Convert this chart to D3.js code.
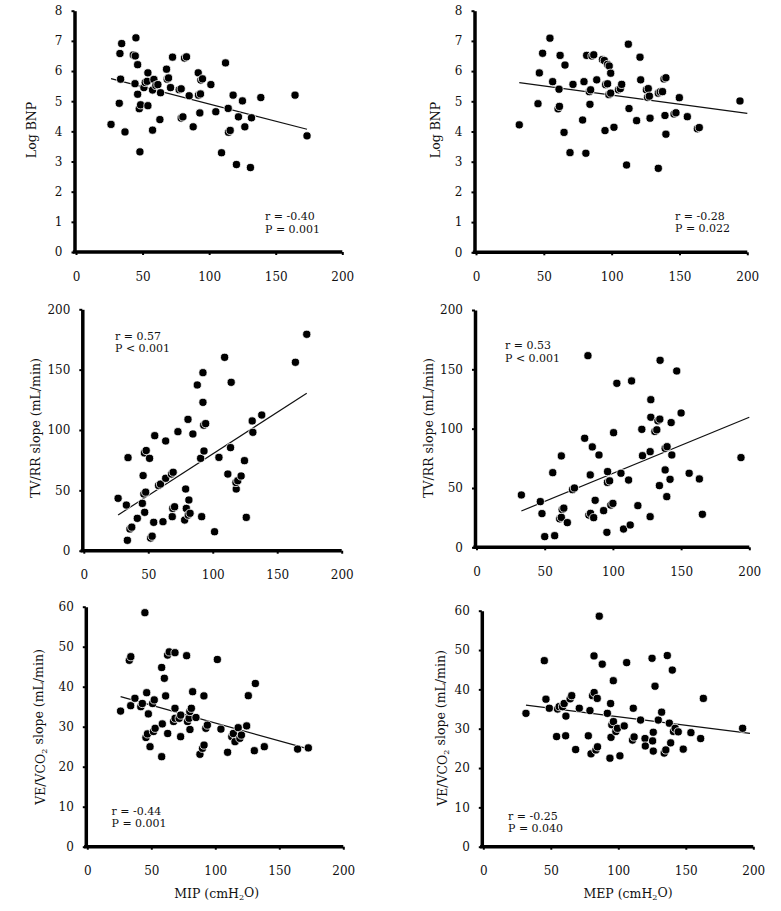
<!DOCTYPE html>
<html>
<head>
<meta charset="utf-8">
<script src="https://cdn.jsdelivr.net/npm/d3@7"></script>
<style>
  html, body { margin: 0; padding: 0; background: #fff; }
  svg { display: block; }
  text { font-family: "DejaVu Serif", "Liberation Serif", serif; fill: #111; }
</style>
</head>
<body>
<svg id="chart" width="781" height="911"></svg>
<script>
// ---- Data ----
const xTicks = [0, 50, 100, 150, 200];
const bnpTicks = [0, 1, 2, 3, 4, 5, 6, 7, 8];
const tvTicks = [0, 50, 100, 150, 200];
const veTicks = [0, 10, 20, 30, 40, 50, 60];

const yTitles = ["Log BNP", "TV/RR slope (mL/min)", "VE/VCO2 slope (mL/min)"];
const xTitles = ["MIP (cmH2O)", "MEP (cmH2O)"];

const statsR = ["r = -0.40", "r = -0.28", "r = 0.57", "r = 0.53", "r = -0.44", "r = -0.25"];
const statsP = ["P = 0.001", "P = 0.022", "P < 0.001", "P < 0.001", "P = 0.001", "P = 0.040"];

const mipBnp = [[26.3,4.23],[33,6.58],[34.3,6.91],[33.5,5.73],[32.5,4.93],[36.8,3.98],[43,6.53],[44.5,6.5],[45,7.10],[46.3,6.21],[44.3,5.58],[46.3,5.23],[47.5,4.75],[48.5,4.88],[48,3.32],[54,4.85],[51,5.45],[52,5.62],[53.5,5.66],[54,5.94],[58.5,5.72],[57.5,5.37],[60,5.52],[61.5,5.55],[63.5,5.28],[57.5,4.04],[63,4.39],[68,6.06],[68.5,5.73],[69.5,5.77],[71,5.45],[72.5,6.46],[77.5,5.38],[79,5.41],[79,4.44],[80.3,4.48],[81.5,6.43],[83,6.47],[85,5.18],[88,4.15],[91.8,5.94],[92,5.2],[93.5,5.24],[93,4.61],[93.8,5.7],[95,5.74],[101.3,5.55],[105,4.65],[109.3,3.29],[112.3,6.27],[114.3,4.76],[114.5,3.97],[115.8,4.03],[118,5.2],[120.5,2.90],[122,4.48],[125,5.01],[126.8,4.15],[131,2.80],[131.8,4.45],[138.8,5.12],[164.5,5.20],[173.5,3.85]];
const mepBnp = [[31.9,4.22],[45.7,4.92],[46.7,5.94],[49.1,6.59],[54.5,7.09],[56.5,5.65],[61.2,5.40],[60.5,4.75],[61.5,4.83],[62,6.52],[65.6,6.20],[64.9,3.97],[69.3,3.30],[71.5,5.56],[78.6,4.38],[79.6,5.65],[81,3.28],[81.6,6.52],[83.5,5.32],[84.5,5.38],[84,4.90],[85.5,6.5],[86.8,6.54],[89,5.71],[93.2,6.38],[94.6,6.35],[95.1,4.03],[95.6,5.55],[97,5.58],[97,6.22],[98.2,6.17],[99.3,5.93],[98,5.22],[99.3,5.27],[101.7,4.14],[105,5.38],[106.4,5.42],[107.4,5.56],[111,2.89],[112.3,6.89],[112.8,4.76],[118.4,4.36],[120.9,6.46],[121.4,5.71],[125.6,5.38],[127,5.42],[126.5,5.13],[127.8,5.17],[128.3,4.44],[134.4,2.78],[134.4,5.27],[135.8,5.31],[137.5,5.32],[138.6,5.74],[140,5.78],[139.3,4.53],[140,3.91],[146,4.58],[147.4,4.62],[149.9,5.12],[155.8,4.49],[163.2,4.09],[164.6,4.13],[194.6,5.01]];
const mipTv = [[26.6,43.4],[33,37.8],[34.3,77.1],[33.8,8.6],[35.8,18],[37.2,19.5],[41.5,26.8],[45.4,39.2],[46,62.2],[46.6,47],[48,48.5],[47,81],[48.4,83],[47.2,31.8],[51,76.5],[51.8,10.5],[53,12],[54.2,23.5],[55,95.3],[58,54],[59.5,55.2],[61.4,24],[63.5,60],[63.5,90.9],[68,63.5],[69.3,65],[68.6,28.2],[69,35],[70.4,36.4],[73,98.6],[78.2,25.4],[79,51.1],[79.5,35],[80.8,108.8],[81.5,42],[81,29.5],[82.4,31],[84.6,96.7],[88,137.3],[90.6,76.5],[91.4,28.2],[92.4,147.5],[92.4,122.9],[93.2,82.6],[93,104],[94.5,105.3],[101.4,15.7],[104.8,77.3],[109.2,160.2],[111.7,63.5],[113.8,85.4],[114.3,139.5],[118.2,51.1],[118,56.5],[119.4,58],[122,61.9],[124.6,74.6],[126,27.6],[130.6,107.5],[131.1,98.1],[138,112.4],[164.1,156.1],[172.9,179.3]];
const mepTv = [[32.9,44.1],[46.8,38.5],[48,28.4],[50,9],[55.9,62.9],[57.3,9.8],[62.2,77],[62.8,31.8],[64,33],[61,24],[62.2,25.2],[66.6,20.8],[70.4,48.6],[71.8,50],[79.3,91.9],[81.7,161.5],[82.4,27.2],[83.6,28.6],[83.4,61],[84.9,84.6],[85.9,25],[87,39.6],[89.8,77.8],[93.2,30.9],[95.6,12.6],[96.1,63.8],[96,54.7],[97.6,56],[98.5,35.6],[100,37],[100.5,96.6],[102.9,138.2],[105.9,62.4],[107.8,15.4],[111.5,56.7],[112.7,18.8],[113.7,140.2],[118.3,35.1],[121.2,99.4],[121.7,77.2],[127.3,80.6],[127.3,25.8],[127.8,109.6],[127.8,124.4],[130.8,97.6],[132.2,99],[133,106.6],[134.4,108],[134.1,52],[134.6,157.6],[138.3,65.2],[138.3,83.4],[139.7,84.8],[139.5,42.7],[141.9,57.3],[142.7,105.1],[143.2,77.8],[146.8,148.6],[150,113.2],[155.9,62.4],[163.4,57.6],[165.6,27.8],[193.9,75.6]];
const mipVe = [[26,33.9],[32.8,46.6],[34,47.5],[33.9,35.25],[37.2,37.1],[41.8,35],[43,35.8],[45,58.5],[46.4,38.5],[47.7,33.2],[45.8,27.3],[47,28.2],[49,25],[51,35.8],[52.3,36.7],[51.7,28.8],[53,29.6],[58.1,44.8],[58.6,30.7],[58.1,22.5],[60.2,42.1],[61.2,37.7],[62.8,28.3],[62.7,47.9],[64,48.7],[68.5,48.5],[68.5,34.6],[67.4,31.3],[68.6,32.1],[71.8,32.1],[73,32.9],[72.9,27.5],[77.6,47.75],[78.3,31.3],[79.5,32.1],[80.2,29.3],[80.1,33.8],[81.3,34.6],[82.3,38.75],[84.9,32.3],[88,23.1],[90,24.6],[91.2,25.4],[91.1,37.7],[92.6,29.6],[93.8,30.4],[101.6,46.8],[104.4,29.4],[109.6,23.6],[112.9,27.5],[114.1,28.3],[115.4,26.25],[117.9,29.75],[119.2,27.1],[120.4,27.9],[124.5,30.2],[125.8,37.75],[130.5,24],[131.3,40.8],[138.3,25],[164.3,24.4],[172.7,24.7]];
const mepVe = [[31.6,33.9],[45.2,47.3],[46.4,37.5],[48.9,35.2],[54.3,28],[55,35],[56.2,35.6],[58.7,35.6],[59.9,36.4],[61,28.2],[61.2,33.2],[64.3,37.6],[65.5,38.4],[71.1,35.2],[68.4,24.7],[77.8,28.2],[79,34.6],[79.8,23.6],[80.9,38.4],[82.1,39.2],[82,48.5],[83.4,24.6],[84.6,25.4],[84.4,37.7],[85.9,58.6],[88.1,46.4],[91.9,33.9],[93.8,22.5],[94.3,36.4],[94.6,27.8],[96.3,42.2],[95.2,31],[96.4,31.8],[98.2,29.3],[99.4,30.1],[101.2,23.1],[104.4,30.7],[106.2,46.8],[111.1,35.2],[110.5,27.1],[111.7,27.9],[116.5,32.2],[119.8,27.5],[120,25.6],[125,47.9],[125.4,26.9],[125.9,29.1],[125.9,24.3],[127.2,40.8],[129.6,32.2],[132.1,34.2],[134,23.8],[135.2,24.6],[136.3,48.6],[137.8,31.4],[138.8,26.4],[140,44.9],[140.9,29.3],[142.1,30.1],[144.4,29.2],[148.1,24.8],[153.8,29],[161,27.5],[163,37.7],[192.1,30.1]];

const trendMipBnp = [[26.3,5.75],[173.5,4.07]];
const trendMepBnp = [[31.9,5.62],[200,4.60]];
const trendMipTv = [[26.6,29.6],[172.9,130.4]];
const trendMepTv = [[32.9,30.6],[200,109.6]];
const trendMipVe = [[26,37.5],[171.9,24.5]];
const trendMepVe = [[31.6,36],[197.5,28.8]];

// ---- Layout ----
const panels = [
  {pts: mipBnp, trend: trendMipBnp, yt: bnpTicks, title: 0, xr: [76, 342.3], yr: [252, 10.7], ylab: [31.5, 130], st: [265, 220]},
  {pts: mepBnp, trend: trendMepBnp, yt: bnpTicks, title: 0, xr: [476, 747.3], yr: [252.3, 10.7], ylab: [435, 130], st: [675, 219.5]},
  {pts: mipTv, trend: trendMipTv, yt: tvTicks, title: 1, xr: [83.8, 341.7], yr: [550.7, 309.3], ylab: [35, 428], st: [115, 339.5]},
  {pts: mepTv, trend: trendMepTv, yt: tvTicks, title: 1, xr: [476.5, 749.3], yr: [547.3, 310], ylab: [428, 428], st: [505, 348.8]},
  {pts: mipVe, trend: trendMipVe, yt: veTicks, title: 2, xr: [87.3, 343.3], yr: [846.7, 606.7], ylab: [40, 727], st: [111.5, 814.5], xt: 0, xtp: [216.7, 898]},
  {pts: mepVe, trend: trendMepVe, yt: veTicks, title: 2, xr: [483.3, 753.3], yr: [846.7, 610.7], ylab: [442, 728], st: [508, 819.5], xt: 1, xtp: [628, 898]}
];

const svg = d3.select("#chart");
svg.append("rect").attr("width", 781).attr("height", 911).attr("fill", "#fff");

function addSub(textSel, str) {
  // render "2" in H2O / VCO2 as subscript
  const parts = str.split(/(?<=CO|H)2/);
  parts.forEach((p, i) => {
    textSel.append("tspan").text(p).attr("dy", i === 0 ? null : "-0.25em");
    if (i < parts.length - 1) {
      textSel.append("tspan").text("2").attr("font-size", "0.65em").attr("dy", "0.25em");
    }
  });
}

panels.forEach((p, i) => {
  const x = d3.scaleLinear().domain([0, 200]).range(p.xr);
  const ymax = d3.max(p.yt);
  const y = d3.scaleLinear().domain([0, ymax]).range(p.yr);
  const g = svg.append("g");

  // axes
  const ax = d3.axisBottom(x).tickValues(xTicks).tickSize(3).tickSizeOuter(0).tickPadding(17);
  const ay = d3.axisLeft(y).tickValues(p.yt).tickSize(3).tickSizeOuter(0).tickPadding(9);
  const gx = g.append("g").attr("transform", `translate(0,${p.yr[0]})`).call(ax);
  const gy = g.append("g").attr("transform", `translate(${p.xr[0] - 1.5},0)`).call(ay);
  [gx, gy].forEach(a => {
    a.select(".domain").attr("stroke", "#000").attr("stroke-width", 3.5);
    a.selectAll(".tick line").attr("stroke", "#000").attr("stroke-width", 2);
    a.selectAll(".tick text").attr("font-family", '"DejaVu Serif", serif').attr("font-size", 12).attr("fill", "#111");
  });
  gx.select(".domain").attr("d", `M${p.xr[0] - 3.2},0H${p.xr[1]}`);

  // trend line
  g.append("line")
    .attr("x1", x(p.trend[0][0])).attr("y1", y(p.trend[0][1]))
    .attr("x2", x(p.trend[1][0])).attr("y2", y(p.trend[1][1]))
    .attr("stroke", "#111").attr("stroke-width", 1.2);

  // points
  g.append("g").selectAll("circle").data(p.pts).join("circle")
    .attr("cx", d => x(d[0])).attr("cy", d => y(d[1])).attr("r", 4.1)
    .attr("fill", "#000").attr("stroke", "#fff").attr("stroke-width", 0.8);

  // y title
  const yt = g.append("text")
    .attr("transform", `translate(${p.ylab[0] + 4.5},${p.ylab[1]}) rotate(-90)`)
    .attr("text-anchor", "middle").attr("font-size", 12.5);
  addSub(yt, yTitles[p.title]);

  // stats
  g.append("text").attr("x", p.st[0]).attr("y", p.st[1]).attr("font-size", 11).text(statsR[i]);
  g.append("text").attr("x", p.st[0]).attr("y", p.st[1] + 12.9).attr("font-size", 11).text(statsP[i]);

  // x title
  if (p.xt !== undefined) {
    const xt = g.append("text").attr("x", p.xtp[0]).attr("y", p.xtp[1])
      .attr("text-anchor", "middle").attr("font-size", 12.5);
    addSub(xt, xTitles[p.xt]);
  }
});
</script>
</body>
</html>
